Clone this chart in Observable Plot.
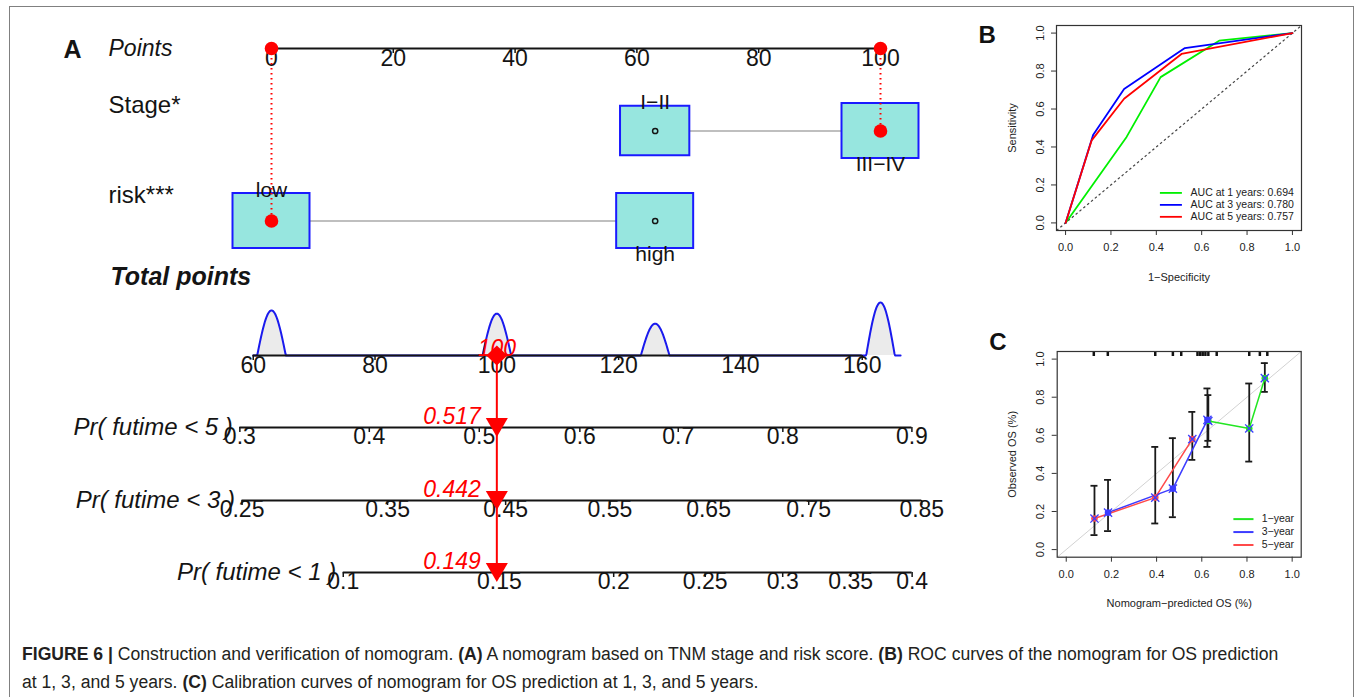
<!DOCTYPE html>
<html><head><meta charset="utf-8">
<script src="https://cdn.jsdelivr.net/npm/d3@7"></script>
<script src="https://cdn.jsdelivr.net/npm/@observablehq/plot@0.6"></script>
<style>
body{margin:0;background:#fff;width:1357px;height:697px;position:relative;overflow:hidden;font-family:"Liberation Sans",Arial,sans-serif}
#frame{position:absolute;left:9px;top:6px;width:1343px;height:760px;border:1.5px solid #808080;border-bottom:none}
.panel{position:absolute}
.panel svg{overflow:visible}
#caption{position:absolute;left:22px;top:640px;width:1320px;font-size:17.6px;line-height:28px;color:#231f20;white-space:nowrap}
</style></head><body>
<div id="frame"></div>
<div id="A" class="panel" style="left:0;top:0"></div>
<div id="B" class="panel" style="left:960px;top:0"></div>
<div id="C" class="panel" style="left:960px;top:300px"></div>
<div id="caption"><b>FIGURE 6 |</b> Construction and verification of nomogram. <b>(A)</b> A nomogram based on TNM stage and risk score. <b>(B)</b> ROC curves of the nomogram for OS prediction<br>at 1, 3, and 5 years. <b>(C)</b> Calibration curves of nomogram for OS prediction at 1, 3, and 5 years.</div>
<script>
// ================= DATA =================
// Panel A: nomogram
const pointsTicks = [0, 20, 40, 60, 80, 100];
const varNames = ["Stage*", "risk***"];
const stageLevels = ["I−II", "III−IV"];
const stagePoints = [63, 100];
const stageBoxSize = [0.9, 1];
const riskLevels = ["low", "high"];
const riskPoints = [0, 63];
const riskBoxSize = [1, 1];
const totalTicks = [60, 80, 100, 120, 140, 160];
const densityCenters = [63, 100, 126, 163];
const densityHeights = [0.85, 0.79, 0.6, 1];
const patientStage = "III−IV";
const patientRisk = "low";
const patientTotal = 100;
const prNames = ["Pr( futime < 5 )", "Pr( futime < 3 )", "Pr( futime < 1 )"];
const prPatient = [0.517, 0.442, 0.149];
const prTicks5 = [0.3, 0.4, 0.5, 0.6, 0.7, 0.8, 0.9];
const prTicks3 = [0.25, 0.35, 0.45, 0.55, 0.65, 0.75, 0.85];
const prTicks1 = [0.1, 0.15, 0.2, 0.25, 0.3, 0.35, 0.4];
const coxBeta = 0.0169;

// Panel B: ROC
const rocFpr1 = [0, 0.269, 0.419, 0.677, 1];
const rocTpr1 = [0, 0.453, 0.768, 0.96, 1];
const rocFpr3 = [0, 0.122, 0.258, 0.526, 1];
const rocTpr3 = [0, 0.465, 0.706, 0.921, 1];
const rocFpr5 = [0, 0.115, 0.258, 0.511, 1];
const rocTpr5 = [0, 0.435, 0.654, 0.89, 1];
const rocNames = ["AUC at 1 years: 0.694", "AUC at 3 years: 0.780", "AUC at 5 years: 0.757"];

// Panel C: calibration
const calPred1 = [0.629, 0.81, 0.879];
const calObs1 = [0.675, 0.636, 0.9];
const calLo1 = [0.571, 0.462, 0.828];
const calHi1 = [0.811, 0.872, 0.979];
const calPred3 = [0.185, 0.472, 0.625];
const calObs3 = [0.194, 0.32, 0.681];
const calLo3 = [0.097, 0.17, 0.539];
const calHi3 = [0.366, 0.585, 0.846];
const calPred5 = [0.125, 0.394, 0.558];
const calObs5 = [0.163, 0.273, 0.58];
const calLo5 = [0.076, 0.137, 0.471];
const calHi5 = [0.335, 0.539, 0.723];
const rugPred = [0.122, 0.184, 0.394, 0.472, 0.509, 0.581, 0.593, 0.604, 0.616, 0.629, 0.666, 0.81, 0.857, 0.89];
const calNames = ["1−year", "3−year", "5−year"];
const axisTicks01 = [0, 0.2, 0.4, 0.6, 0.8, 1];

// ================= STYLE / LAYOUT =================
const FONT = "Liberation Sans, Arial, Helvetica, sans-serif";
const INK = "#141414";
const rocColors = ["#00f000", "#0000ff", "#ff0000"];
const calColors = ["#22e622", "#3c3cff", "#ff4a4a"];
const LA = {width: 960, height: 600, xLeft: 271, xRight: 880,
  pointsY: 48, rowY: [130.5, 220.5], totalY: 355, prY: [427, 500, 572],
  boxHalfW: 38.5, boxHalfH: 27.5, densityMaxH: 53, bumpHalf: 2.35};

// ================= PANEL A =================
const ppx = (LA.xRight - LA.xLeft) / 100;
const totalMin = d3.min(stagePoints) + d3.min(riskPoints);
const tx = t => t - totalMin;
const cll = p => Math.log(-Math.log(1 - p));
const prTotal = (p, i) => patientTotal + (cll(p) - cll(prPatient[i])) / coxBeta;
const prTicks = [prTicks5, prTicks3, prTicks1];

const boxes = [];
[[stageLevels, stagePoints, stageBoxSize, patientStage], [riskLevels, riskPoints, riskBoxSize, patientRisk]]
  .forEach(([lv, pts, sz, sel], r) => lv.forEach((name, i) => boxes.push({
    row: r, y: LA.rowY[r], name, pts: pts[i], s: sz[i], i, sel: name === sel})));
const rowsInfo = [0, 1].map(r => ({y: LA.rowY[r], min: d3.min(boxes.filter(b => b.row === r), b => b.pts), max: d3.max(boxes.filter(b => b.row === r), b => b.pts)}));
const selected = boxes.filter(b => b.sel);

const dens = d3.range(d3.min(totalTicks), d3.max(densityCenters) + LA.bumpHalf + 1, 0.1).map(t => ({
  t, h: d3.sum(densityCenters, (c, k) => Math.abs(t - c) < LA.bumpHalf ? densityHeights[k] * Math.cos(Math.PI / 2 * (t - c) / LA.bumpHalf) : 0)}));

const prTickRows = prTicks.flatMap((ts, i) => ts.map(p => ({i, p, t: prTotal(p, i)})));
const prAxes = prNames.map((name, i) => ({name, i, y: LA.prY[i], x1: tx(prTotal(prTicks[i][0], i)), x2: tx(prTotal(prTicks[i][prTicks[i].length - 1], i))}));

const diamondSym = {draw(ctx, size) {const r = Math.sqrt(size / Math.PI); ctx.moveTo(0, -r); ctx.lineTo(r * 1.05, 0); ctx.lineTo(0, r); ctx.lineTo(-r * 1.05, 0); ctx.closePath();}};
const triDown = {draw(ctx, size) {const r = Math.sqrt(size / Math.PI); ctx.moveTo(-1.16 * r, -r); ctx.lineTo(1.16 * r, -r); ctx.lineTo(0, r); ctx.closePath();}};

const plotA = Plot.plot({
  width: LA.width, height: LA.height, margin: 0,
  x: {domain: [0, 100], range: [LA.xLeft, LA.xRight], axis: null},
  y: {domain: [0, LA.height], range: [0, LA.height], axis: null},
  style: {fontFamily: FONT, color: INK, background: "transparent", overflow: "visible"},
  marks: [
    // density of total points
    Plot.areaY(dens, {x: d => tx(d.t), y1: LA.totalY, y2: d => LA.totalY - d.h * LA.densityMaxH, fill: "#ebebeb"}),
    Plot.line(dens, {x: d => tx(d.t), y: d => LA.totalY - d.h * LA.densityMaxH, stroke: "#1a1aee", strokeWidth: 2}),
    // axis lines
    Plot.ruleY([LA.pointsY], {y: d => d, x1: d3.min(pointsTicks), x2: d3.max(pointsTicks), stroke: INK, strokeWidth: 2}),
    Plot.ruleY([LA.totalY], {y: d => d, x1: tx(d3.min(totalTicks)), x2: tx(d3.max(totalTicks)), stroke: INK, strokeWidth: 2}),
    Plot.ruleY(prAxes, {y: "y", x1: "x1", x2: "x2", stroke: INK, strokeWidth: 2}),
    // tick marks
    Plot.ruleX(pointsTicks, {x: d => d, y1: LA.pointsY, y2: LA.pointsY + 5, stroke: INK, strokeWidth: 1.5}),
    Plot.ruleX(totalTicks, {x: d => tx(d), y1: LA.totalY, y2: LA.totalY + 5, stroke: INK, strokeWidth: 1.5}),
    Plot.ruleX(prTickRows, {x: d => tx(d.t), y1: d => LA.prY[d.i], y2: d => LA.prY[d.i] + 5, stroke: INK, strokeWidth: 1.5}),
    // tick labels
    Plot.text(pointsTicks, {x: d => d, y: LA.pointsY + 17, text: d => String(d), lineAnchor: "bottom", fontSize: 23, fill: INK}),
    Plot.text(totalTicks, {x: d => tx(d), y: LA.totalY + 17, text: d => String(d), lineAnchor: "bottom", fontSize: 23, fill: INK}),
    Plot.text(prTickRows, {x: d => tx(d.t), y: d => LA.prY[d.i] + 16, text: d => String(d.p), lineAnchor: "bottom", fontSize: 23, fill: INK}),
    // row labels
    Plot.text(["A"], {text: d => d, y: LA.pointsY + 9, frameAnchor: "left", dx: 63, textAnchor: "start", lineAnchor: "bottom", fontWeight: "bold", fontSize: 25, fill: INK}),
    Plot.text(["Points"], {text: d => d, y: LA.pointsY + 7, frameAnchor: "left", dx: 108, textAnchor: "start", lineAnchor: "bottom", fontStyle: "italic", fontSize: 23, fill: INK}),
    Plot.text(varNames, {text: d => d, y: (d, i) => LA.rowY[i] - 18.5, frameAnchor: "left", dx: 108, textAnchor: "start", lineAnchor: "bottom", fontSize: 24, fill: INK}),
    Plot.text(["Total points"], {text: d => d, y: 284, frameAnchor: "left", dx: 110, textAnchor: "start", lineAnchor: "bottom", fontStyle: "italic", fontWeight: "bold", fontSize: 25, fill: INK}),
    Plot.text(prAxes, {x: "x1", y: d => d.y + 7, text: "name", textAnchor: "end", dx: -7, lineAnchor: "bottom", fontStyle: "italic", fontSize: 24, fill: INK}),
    // category rows
    Plot.ruleY(rowsInfo, {y: "y", x1: "min", x2: "max", stroke: "#bfbfbf", strokeWidth: 2}),
    Plot.rect(boxes, {x1: d => d.pts - LA.boxHalfW * d.s / ppx, x2: d => d.pts + LA.boxHalfW * d.s / ppx,
      y1: d => d.y - LA.boxHalfH * d.s, y2: d => d.y + LA.boxHalfH * d.s, fill: "#97e6df", stroke: "#1a1aff", strokeWidth: 2}),
    Plot.dot(boxes.filter(b => !b.sel), {x: "pts", y: "y", r: 2.6, stroke: INK, strokeWidth: 1.5, fill: "none"}),
    Plot.text(boxes, {x: "pts", y: d => d.i % 2 === 0 ? d.y - LA.boxHalfH * d.s + 3 : d.y + LA.boxHalfH * d.s + 12,
      text: "name", lineAnchor: "bottom", fontSize: 21, fill: INK}),
    // patient example
    Plot.ruleX(selected, {x: "pts", y1: LA.pointsY, y2: "y", stroke: "red", strokeWidth: 2, strokeDasharray: "1.5,3.5"}),
    Plot.dot(selected, {x: "pts", y: LA.pointsY, r: 6.8, fill: "red"}),
    Plot.dot(selected, {x: "pts", y: "y", r: 6.8, fill: "red"}),
    Plot.ruleX([patientTotal], {x: d => tx(d), y1: LA.totalY, y2: LA.prY[2], stroke: "red", strokeWidth: 2}),
    Plot.dot([patientTotal], {x: d => tx(d), y: LA.totalY, r: 10, symbol: diamondSym, fill: "red"}),
    Plot.text([patientTotal], {x: d => tx(d), y: LA.totalY, text: d => String(d), lineAnchor: "bottom", fontStyle: "italic", fontSize: 23, fill: "red"}),
    Plot.dot(prPatient, {x: tx(patientTotal), y: (d, i) => LA.prY[i], r: 9.5, symbol: triDown, fill: "red"}),
    Plot.text(prPatient, {x: tx(patientTotal), y: (d, i) => LA.prY[i] - 4, text: d => d3.format(".3f")(d), textAnchor: "end", dx: -16, lineAnchor: "bottom", fontStyle: "italic", fontSize: 23, fill: "red"})
  ]
});
document.getElementById("A").append(plotA);

// ================= SHARED for B and C =================
const dom01 = [-0.04, 1.04];
const fmt1 = d3.format(".1f");
function frameMarks(xLabel, yLabel) {
  return [
    Plot.frame({stroke: "#333", strokeWidth: 1.2}),
    Plot.axisX({ticks: axisTicks01, tickFormat: fmt1, tickSize: 5, tickPadding: 8, label: null, fontSize: 11, stroke: "#333"}),
    Plot.axisY({ticks: axisTicks01, tickFormat: () => "", tickSize: 5, label: null, stroke: "#333"}),
    Plot.text(axisTicks01, {y: d => d, text: d => fmt1(d), frameAnchor: "left", dx: -13, rotate: -90, textAnchor: "middle", lineAnchor: "bottom", fontSize: 11, fill: "#222"}),
    Plot.text([xLabel], {text: d => d, frameAnchor: "bottom", dy: 50, lineAnchor: "bottom", fontSize: 11, fill: "#222"}),
    Plot.text([yLabel], {text: d => d, frameAnchor: "left", dx: -41, rotate: -90, textAnchor: "middle", lineAnchor: "bottom", fontSize: 11, fill: "#222"})
  ];
}

// ================= PANEL B =================
const rocRows = [];
[[rocFpr1, rocTpr1], [rocFpr3, rocTpr3], [rocFpr5, rocTpr5]].forEach(([f, t], k) =>
  f.forEach((x, j) => rocRows.push({series: rocNames[k], fpr: x, tpr: t[j]})));
const LB = {legX1: 0.418, legX2: 0.515, legTextX: 0.551, legY0: 0.158, legStep: 0.063};
const rocLegend = rocNames.map((series, k) => ({series, y: LB.legY0 - k * LB.legStep}));

const plotB = Plot.plot({
  width: 397, height: 300, marginLeft: 96, marginRight: 56, marginTop: 25, marginBottom: 70,
  x: {domain: dom01, axis: null}, y: {domain: dom01, axis: null},
  color: {domain: rocNames, range: rocColors},
  style: {fontFamily: FONT, fontSize: "11px", color: "#222", background: "transparent", overflow: "visible"},
  marks: [
    Plot.link([0], {x1: dom01[0], y1: dom01[0], x2: dom01[1], y2: dom01[1], stroke: "#444", strokeWidth: 1.2, strokeDasharray: "2.5,2.5"}),
    Plot.line(rocRows, {x: "fpr", y: "tpr", z: "series", stroke: "series", strokeWidth: 1.8}),
    ...frameMarks("1−Specificity", "Sensitivity"),
    Plot.ruleY(rocLegend, {y: "y", x1: LB.legX1, x2: LB.legX2, stroke: "series", strokeWidth: 1.8}),
    Plot.text(rocLegend, {y: "y", x: LB.legTextX, text: "series", textAnchor: "start", fontSize: 10.5, fill: "#222"}),
    Plot.text(["B"], {text: d => d, frameAnchor: "top-left", dx: -78, dy: 17.5, textAnchor: "start", lineAnchor: "bottom", fontWeight: "bold", fontSize: 24, fill: "#111"})
  ]
});
document.getElementById("B").append(plotB);

// ================= PANEL C =================
const calRows = [];
[[calPred1, calObs1, calLo1, calHi1], [calPred3, calObs3, calLo3, calHi3], [calPred5, calObs5, calLo5, calHi5]]
  .forEach(([p, o, lo, hi], k) => p.forEach((x, j) => calRows.push({series: calNames[k], pred: x, obs: o[j], lo: lo[j], hi: hi[j]})));
const LC = {legX1: 0.742, legX2: 0.831, legTextX: 0.865, legY0: 0.160, legStep: 0.068, rugLen: 5};
const calLegend = calNames.map((series, k) => ({series, y: LC.legY0 - k * LC.legStep}));
const hC = 320, mtC = 51, mbC = 63.3;

const plotC = Plot.plot({
  width: 397, height: hC, marginLeft: 96.7, marginRight: 56.3, marginTop: mtC, marginBottom: mbC,
  x: {domain: dom01, axis: null}, y: {domain: dom01, axis: null},
  color: {domain: calNames, range: calColors},
  style: {fontFamily: FONT, fontSize: "11px", color: "#222", background: "transparent", overflow: "visible"},
  marks: [
    Plot.link([0], {x1: dom01[0], y1: dom01[0], x2: dom01[1], y2: dom01[1], stroke: "#d2d2d2", strokeWidth: 1}),
    Plot.ruleX(rugPred, {x: d => d, insetBottom: hC - mtC - mbC - LC.rugLen, stroke: "#111", strokeWidth: 2.5}),
    Plot.ruleX(calRows, {x: "pred", y1: "lo", y2: "hi", stroke: "#1a1a1a", strokeWidth: 1.8}),
    Plot.ruleY(calRows, {y: "lo", x1: "pred", x2: "pred", insetLeft: -3.5, insetRight: -3.5, stroke: "#1a1a1a", strokeWidth: 1.8}),
    Plot.ruleY(calRows, {y: "hi", x1: "pred", x2: "pred", insetLeft: -3.5, insetRight: -3.5, stroke: "#1a1a1a", strokeWidth: 1.8}),
    Plot.line(calRows, {x: "pred", y: "obs", z: "series", stroke: "series", strokeWidth: 1.5}),
    Plot.dot(calRows, {x: "pred", y: "obs", r: 3.3, fill: "series"}),
    Plot.dot(calRows, {x: "pred", y: "obs", r: 3.8, symbol: "times", stroke: "#3c3cff", strokeWidth: 1.3}),
    ...frameMarks("Nomogram−predicted OS (%)", "Observed OS (%)"),
    Plot.ruleY(calLegend, {y: "y", x1: LC.legX1, x2: LC.legX2, stroke: "series", strokeWidth: 2}),
    Plot.text(calLegend, {y: "y", x: LC.legTextX, text: "series", textAnchor: "start", fontSize: 10.5, fill: "#222"}),
    Plot.text(["C"], {text: d => d, frameAnchor: "top-left", dx: -68, dy: -2, textAnchor: "start", lineAnchor: "bottom", fontWeight: "bold", fontSize: 24, fill: "#111"})
  ]
});
document.getElementById("C").append(plotC);
</script>
</body></html>
